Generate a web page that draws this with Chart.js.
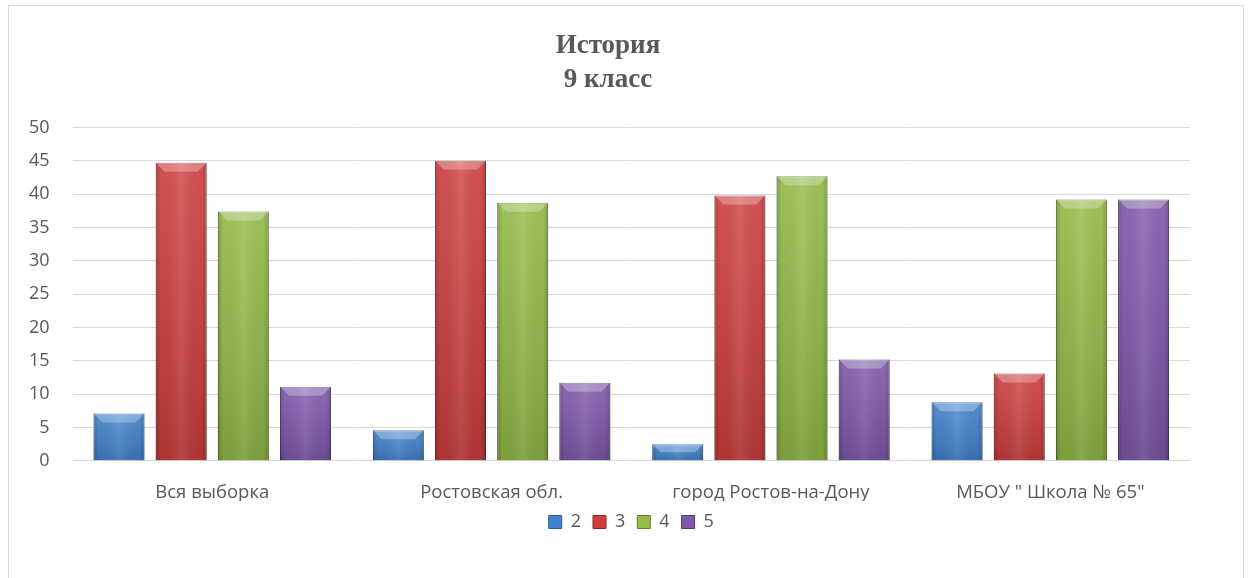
<!DOCTYPE html>
<html>
<head>
<meta charset="utf-8">
<script src="https://cdn.jsdelivr.net/npm/chart.js@4/dist/chart.umd.min.js"></script>
<style>
  html, body { margin: 0; padding: 0; background: #fff; }
  #wrap { position: relative; width: 1248px; height: 578px; }
  #frame { position: absolute; left: 8px; top: 5px; width: 1236px; height: 600px; border: 1px solid #d9d9d9; box-sizing: border-box; }
  canvas { position: absolute; left: 0; top: 0; }
</style>
</head>
<body>
<div id="wrap">
  <div id="frame"></div>
  <canvas id="chart" width="1248" height="578"></canvas>
</div>
<script>
// chart data
const categories = ['Вся выборка', 'Ростовская обл.', 'город Ростов-на-Дону', 'МБОУ " Школа № 65"'];
const grade2 = [7.1, 4.6, 2.5, 8.8];
const grade3 = [44.7, 45.0, 39.8, 13.1];
const grade4 = [37.4, 38.7, 42.7, 39.2];
const grade5 = [11.1, 11.7, 15.2, 39.2];
const yTicks = [0, 5, 10, 15, 20, 25, 30, 35, 40, 45, 50];

// base and dark colours per series
const palette = {
    '2': ['#4183cf', '#2a5f9e'],
    '3': ['#d03d3d', '#8f2828'],
    '4': ['#94bc46', '#647f2c'],
    '5': ['#7e59ab', '#563a7c']
};

// draws a soft bevel over each bar, using the bar elements' own geometry
const bevelPlugin = {
    id: 'bevel',
    afterDatasetsDraw(chart) {
        const c = chart.ctx;
        chart.data.datasets.forEach((ds, i) => {
            chart.getDatasetMeta(i).data.forEach((bar) => {
                const w = bar.width, left = bar.x - w / 2, right = bar.x + w / 2;
                const top = bar.y, bottom = bar.base;
                const h = bottom - top;
                c.save();
                const g = c.createLinearGradient(left, 0, right, 0);
                g.addColorStop(0, 'rgba(0,0,0,0.22)');
                g.addColorStop(0.1, 'rgba(0,0,0,0.02)');
                g.addColorStop(0.5, 'rgba(255,255,255,0.10)');
                g.addColorStop(0.9, 'rgba(0,0,0,0.02)');
                g.addColorStop(1, 'rgba(0,0,0,0.22)');
                c.fillStyle = g;
                c.fillRect(left, top, w, h);
                const gv = c.createLinearGradient(0, top, 0, bottom);
                gv.addColorStop(0, 'rgba(255,255,255,0.10)');
                gv.addColorStop(1, 'rgba(0,0,0,0.14)');
                c.fillStyle = gv;
                c.fillRect(left, top, w, h);
                // top bevel
                const b = Math.min(9, h / 2);
                c.beginPath();
                c.moveTo(left, top);
                c.lineTo(right, top);
                c.lineTo(right - b, top + b);
                c.lineTo(left + b, top + b);
                c.closePath();
                c.fillStyle = 'rgba(255,255,255,0.28)';
                c.fill();
                c.restore();
            });
        });
    }
};

function makeSet(label, values) {
    return {
        label: label,
        data: values,
        backgroundColor: palette[label][0],
        borderColor: palette[label][1],
        borderWidth: 1,
        categoryPercentage: 0.89,
        barPercentage: 0.82
    };
}

const fontSans = "'Open Sans', 'Noto Sans', sans-serif";

new Chart(document.getElementById('chart'), {
    type: 'bar',
    data: {
        labels: categories,
        datasets: [
            makeSet('2', grade2),
            makeSet('3', grade3),
            makeSet('4', grade4),
            makeSet('5', grade5)
        ]
    },
    options: {
        responsive: false,
        animation: false,
        layout: { padding: { left: 26, right: 58, top: 29, bottom: 37 } },
        plugins: {
            title: {
                display: true,
                text: ['История', '9 класс'],
                color: '#595959',
                font: { family: "'Liberation Serif', 'Times New Roman', serif", size: 27, weight: 'bold', lineHeight: 1.25 },
                padding: { top: 0, bottom: 31 }
            },
            legend: {
                position: 'bottom',
                fullSize: false,
                labels: {
                    color: '#595959',
                    font: { family: fontSans, size: 18 },
                    boxWidth: 13,
                    boxHeight: 13,
                    padding: 12,
                    generateLabels: (chart) => chart.data.datasets.map((ds, i) => ({
                        text: ds.label,
                        fillStyle: palette[ds.label][0],
                        strokeStyle: palette[ds.label][1],
                        lineWidth: 1,
                        fontColor: '#595959',
                        datasetIndex: i
                    }))
                }
            },
            tooltip: { enabled: false }
        },
        scales: {
            x: {
                grid: { display: false, drawTicks: false },
                border: { display: false },
                ticks: { color: '#595959', font: { family: fontSans, size: 18.5 }, padding: 21 },
                afterFit: (scale) => { scale.height -= 24; }
            },
            y: {
                min: 0,
                max: 50,
                afterBuildTicks: (axis) => { axis.ticks = yTicks.map(v => ({ value: v })); },
                grid: { color: '#d9d9d9', lineWidth: 1, drawTicks: false },
                border: { display: false },
                ticks: { color: '#595959', font: { family: fontSans, size: 18 }, padding: 23 },
                afterFit: (scale) => { scale.width -= 20; }
            }
        }
    },
    plugins: [bevelPlugin]
});
</script>
</body>
</html>
